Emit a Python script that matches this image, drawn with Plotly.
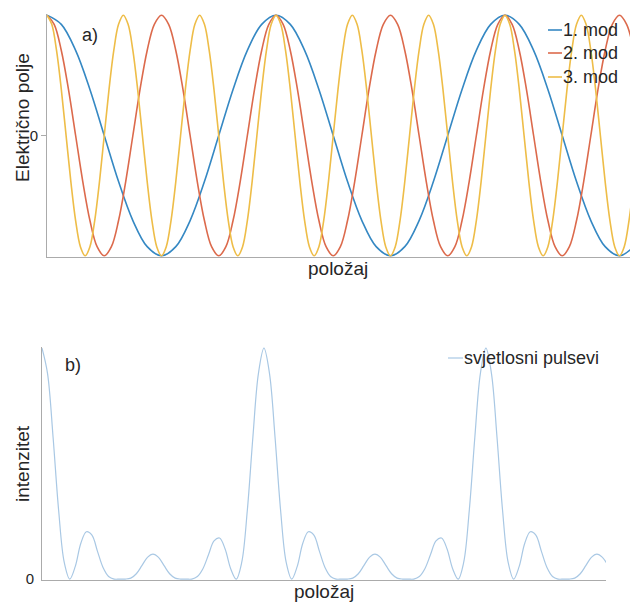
import numpy as np
import plotly.graph_objects as go

W, H = 638, 602


def PX(x):
    return x / W


def PY(y):
    return 1 - y / H


# ---------------- data ----------------
mode_names = ["1. mod", "2. mod", "3. mod"]
pulse_name = "svjetlosni pulsevi"
x_end = 2.546  # visible extent of the position axis (in units of the 1st-mode period)

# Electric field of the modes, sampled at 1/16 of each mode's own period
mode1_step = 1 / 16
mode1_E = [1, .924, .707, .383, 0, -.383, -.707, -.924, -1, -.924, -.707, -.383, 0, .383, .707, .924,
           1, .924, .707, .383, 0, -.383, -.707, -.924, -1, -.924, -.707, -.383, 0, .383, .707, .924,
           1, .924, .707, .383, 0, -.383, -.707, -.924, -1, -.924]

mode2_step = 1 / 32
mode2_E = [1, .924, .707, .383, 0, -.383, -.707, -.924, -1, -.924, -.707, -.383, 0, .383, .707, .924,
           1, .924, .707, .383, 0, -.383, -.707, -.924, -1, -.924, -.707, -.383, 0, .383, .707, .924,
           1, .924, .707, .383, 0, -.383, -.707, -.924, -1, -.924, -.707, -.383, 0, .383, .707, .924,
           1, .924, .707, .383, 0, -.383, -.707, -.924, -1, -.924, -.707, -.383, 0, .383, .707, .924,
           1, .924, .707, .383, 0, -.383, -.707, -.924, -1, -.924, -.707, -.383, 0, .383, .707, .924,
           1, .924, .707]

mode3_step = 1 / 48
mode3_E = [1, .924, .707, .383, 0, -.383, -.707, -.924, -1, -.924, -.707, -.383, 0, .383, .707, .924,
           1, .924, .707, .383, 0, -.383, -.707, -.924, -1, -.924, -.707, -.383, 0, .383, .707, .924,
           1, .924, .707, .383, 0, -.383, -.707, -.924, -1, -.924, -.707, -.383, 0, .383, .707, .924,
           1, .924, .707, .383, 0, -.383, -.707, -.924, -1, -.924, -.707, -.383, 0, .383, .707, .924,
           1, .924, .707, .383, 0, -.383, -.707, -.924, -1, -.924, -.707, -.383, 0, .383, .707, .924,
           1, .924, .707, .383, 0, -.383, -.707, -.924, -1, -.924, -.707, -.383, 0, .383, .707, .924,
           1, .924, .707, .383, 0, -.383, -.707, -.924, -1, -.924, -.707, -.383, 0, .383, .707, .924,
           1, .924, .707, .383, 0, -.383, -.707, -.924, -1, -.924, -.707, -.383]

# Intensity of the light pulses (normalised), sampled every 1/40 period
pulse_step = 1 / 40
pulse_I = [1.0, .89, .613, .297, .073, 0, .055, .155, .205, .19,
           .12, .05, .011, 0, 0, 0, .004, .023, .058, .094,
           .108, .094, .058, .023, .004, 0, 0, 0, .011, .045,
           .105, .165, .178, .13, .045, 0, .073, .297, .613, .89,
           1.0, .89, .613, .297, .073, 0, .055, .155, .205, .19,
           .12, .05, .011, 0, 0, 0, .004, .023, .058, .094,
           .108, .094, .058, .023, .004, 0, 0, 0, .011, .045,
           .105, .165, .178, .13, .045, 0, .073, .297, .613, .89,
           1.0, .89, .613, .297, .073, 0, .055, .155, .205, .19,
           .12, .05, .011, 0, 0, 0, .004, .023, .058, .094,
           .108, .094, .058]

mode_colors = ["#3588c3", "#dc6a4c", "#eebd48"]
pulse_color = "#a9c8e4"

# ---------------- figure ----------------
fig = go.Figure()

for name, step, vals, col in zip(mode_names,
                                 [mode1_step, mode2_step, mode3_step],
                                 [mode1_E, mode2_E, mode3_E],
                                 mode_colors):
    x = np.arange(len(vals)) * step
    fig.add_trace(go.Scatter(x=x, y=vals, mode="lines", name=name,
                             line=dict(color=col, width=1.6, shape="spline", smoothing=1.0),
                             xaxis="x", yaxis="y", showlegend=False))

xp = np.arange(len(pulse_I)) * pulse_step
fig.add_trace(go.Scatter(x=xp, y=pulse_I, mode="lines", name=pulse_name,
                         line=dict(color=pulse_color, width=1.2, shape="spline", smoothing=1.0),
                         xaxis="x2", yaxis="y2", showlegend=False))

FONT = "Liberation Sans, Arial, Helvetica, sans-serif"
TXT = "#262626"
AX = "#ababab"

axis_common = dict(showline=True, linecolor=AX, linewidth=1, showgrid=False,
                   zeroline=False, automargin=False,
                   tickfont=dict(family=FONT, size=15, color=TXT))

fig.update_layout(
    width=W, height=H,
    margin=dict(l=0, r=0, t=0, b=0),
    paper_bgcolor="white", plot_bgcolor="white",
    font=dict(family=FONT, color=TXT),
    xaxis=dict(domain=[PX(47), PX(630)], range=[0, x_end], showticklabels=False,
               ticks="", anchor="y", **axis_common),
    yaxis=dict(domain=[PY(257), PY(14)], range=[-1.01, 1.01], tickvals=[0],
               ticktext=["0"], ticks="outside", ticklen=5, tickcolor=AX,
               anchor="x", **axis_common),
    xaxis2=dict(domain=[PX(42), PX(606)], range=[0, 2.541], showticklabels=False,
                ticks="", anchor="y2", **axis_common),
    yaxis2=dict(domain=[PY(580), PY(347)], range=[-0.004, 1.005], tickvals=[0],
                ticktext=["0"], ticks="outside", ticklen=4, tickcolor="rgba(0,0,0,0)",
                anchor="x2", **axis_common),
)

ann = []
# axis titles
ann.append(dict(x=PX(338), y=PY(268), text="položaj", showarrow=False,
                xref="paper", yref="paper", xanchor="center", yanchor="middle",
                font=dict(family=FONT, size=19, color=TXT)))
ann.append(dict(x=PX(324), y=PY(591), text="položaj", showarrow=False,
                xref="paper", yref="paper", xanchor="center", yanchor="middle",
                font=dict(family=FONT, size=19, color=TXT)))
ann.append(dict(x=PX(22), y=PY(118), text="Električno polje", showarrow=False,
                xref="paper", yref="paper", xanchor="center", yanchor="middle",
                textangle=-90, font=dict(family=FONT, size=19, color=TXT)))
ann.append(dict(x=PX(22), y=PY(464), text="intenzitet", showarrow=False,
                xref="paper", yref="paper", xanchor="center", yanchor="middle",
                textangle=-90, font=dict(family=FONT, size=19, color=TXT)))
# panel labels
ann.append(dict(x=PX(90), y=PY(35), text="a)", showarrow=False, xref="paper", yref="paper",
                xanchor="center", yanchor="middle", font=dict(family=FONT, size=18, color=TXT)))
ann.append(dict(x=PX(73), y=PY(365), text="b)", showarrow=False, xref="paper", yref="paper",
                xanchor="center", yanchor="middle", font=dict(family=FONT, size=18, color=TXT)))

shapes = []
# manual legends
leg_y = [30, 53, 77]
for name, col, yy in zip(mode_names, mode_colors, leg_y):
    shapes.append(dict(type="line", xref="paper", yref="paper", x0=PX(548), x1=PX(562),
                       y0=PY(yy), y1=PY(yy), line=dict(color=col, width=1.6)))
    ann.append(dict(x=PX(561), y=PY(yy), text=name, showarrow=False, xref="paper", yref="paper",
                    xanchor="left", yanchor="middle", font=dict(family=FONT, size=18, color=TXT)))
shapes.append(dict(type="line", xref="paper", yref="paper", x0=PX(448), x1=PX(463),
                   y0=PY(358), y1=PY(358), line=dict(color=pulse_color, width=1.2)))
ann.append(dict(x=PX(462), y=PY(358), text=pulse_name, showarrow=False, xref="paper", yref="paper",
                xanchor="left", yanchor="middle", font=dict(family=FONT, size=18, color=TXT)))

fig.update_layout(annotations=ann, shapes=shapes)

fig.write_html("out.html", config={"displayModeBar": False})

# remove the browser's default page margin so the figure fills the window exactly
with open("out.html", "r", encoding="utf-8") as f:
    html = f.read()
html = html.replace("<head>", "<head><style>html,body{margin:0;padding:0;overflow:hidden}</style>", 1)
with open("out.html", "w", encoding="utf-8") as f:
    f.write(html)
